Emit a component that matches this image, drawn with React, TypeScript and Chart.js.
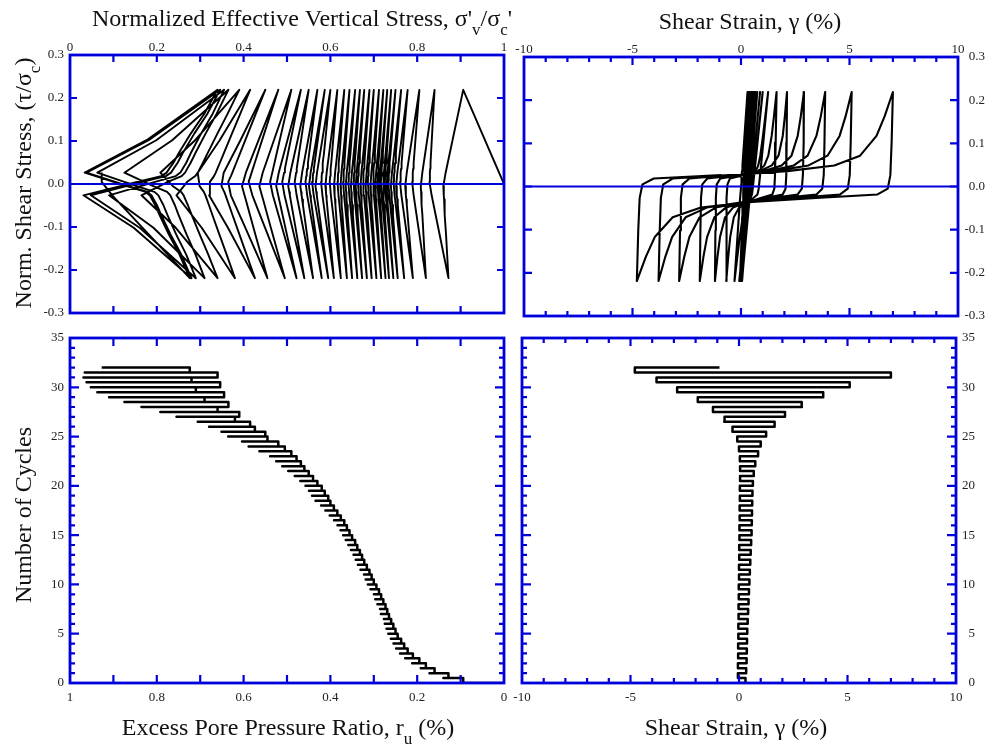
import React, { useEffect, useRef } from "react";
import { Chart, registerables } from "chart.js";

Chart.register(...registerables);

const PAGE_W = 987;
const PAGE_H = 749;
const FONT = '"Liberation Serif", "Times New Roman", serif';
const BLUE = "#0000dd";
const INK = "#222";

// ---------------- data ----------------
// cycle counter level of each loading half-cycle (half-cycle 1..65)
const halfCycleN = [
  0, 0.5, 1, 1.5, 2, 2.5, 3, 3.5, 4, 4.5, 5, 5.5, 6, 6.5, 7, 7.5, 8, 8.5, 9, 9.5,
  10, 10.5, 11, 11.5, 12, 12.5, 13, 13.5, 14, 14.5, 15, 15.5, 16, 16.5, 17, 17.5,
  18, 18.5, 19, 19.5, 20, 20.5, 21, 21.5, 22, 22.5, 23, 23.5, 24, 24.5, 25, 25.5,
  26, 26.5, 27, 27.5, 28, 28.5, 29, 29.5, 30, 30.5, 31, 31.5, 32,
];

// shear strain γ (%) at each stress peak (peak 1..64, odd = +τ peak, even = −τ peak)
const peakStrain = [
  0.3, -0.05, 0.33, -0.05, 0.35, -0.04, 0.36, -0.04, 0.37, -0.03,
  0.38, -0.03, 0.4, -0.02, 0.42, -0.02, 0.44, -0.01, 0.46, -0.01,
  0.48, 0.0, 0.5, 0.0, 0.52, 0.01, 0.54, 0.01, 0.56, 0.02,
  0.58, 0.02, 0.59, 0.03, 0.6, 0.03, 0.61, 0.04, 0.62, 0.04,
  0.64, 0.05, 0.68, 0.05, 0.75, 0.04, 0.88, 0.0, 1.0, -0.08,
  1.25, -0.3, 1.64, -0.68, 2.12, -1.2, 2.9, -1.9, 3.88, -2.85,
  5.1, -3.8, 7.0, -4.8,
];

// excess pore pressure ratio r_u at each stress peak (peak 1..64)
const peakRu = [
  0.094, 0.128, 0.16, 0.18, 0.195, 0.21, 0.222, 0.23, 0.237, 0.245,
  0.25, 0.255, 0.26, 0.265, 0.269, 0.273, 0.278, 0.283, 0.288, 0.294,
  0.3, 0.305, 0.31, 0.316, 0.322, 0.327, 0.332, 0.338, 0.343, 0.35,
  0.356, 0.362, 0.368, 0.376, 0.384, 0.392, 0.4, 0.405, 0.413, 0.42,
  0.43, 0.44, 0.45, 0.46, 0.468, 0.478, 0.49, 0.505, 0.52, 0.545,
  0.55, 0.574, 0.585, 0.62, 0.61, 0.66, 0.635, 0.69, 0.645, 0.71,
  0.654, 0.72, 0.66, 0.724,
];

// highest r_u reached in each half-cycle (near τ ≈ 0), half-cycle 1..65
const halfCycleRuMax = [
  0.094, 0.14, 0.172, 0.192, 0.212, 0.228, 0.24, 0.249, 0.255, 0.261,
  0.267, 0.271, 0.275, 0.279, 0.284, 0.288, 0.292, 0.297, 0.302, 0.308,
  0.314, 0.319, 0.325, 0.331, 0.337, 0.342, 0.347, 0.353, 0.359, 0.365,
  0.371, 0.377, 0.384, 0.392, 0.402, 0.412, 0.422, 0.435, 0.443, 0.45,
  0.458, 0.47, 0.483, 0.498, 0.512, 0.526, 0.54, 0.565, 0.59, 0.605,
  0.64, 0.657, 0.69, 0.716, 0.763, 0.8, 0.84, 0.877, 0.91, 0.937,
  0.952, 0.962, 0.969, 0.966, 0.927,
];

// cyclic stress amplitude τ/σ'c
const tauAmplitude = 0.219;
const startState = { tau: 0, strain: 0, ru: 0 };
const endStrain = -0.9;

// shape of a developed loop read from the largest loops:
// stress level (fraction of amplitude, −1 = start peak, +1 = end peak),
// fraction of the half-cycle strain change, and r_u position
// (0 = half-cycle maximum, 1 = value at the start / end peak)
const loopTauLevels = [-1, -0.465, -0.12, 0.023, 0.084, 0.121, 0.163, 0.223, 0.326, 0.535, 0.744, 1];
const loopStrainFraction = [0, 0.005, 0.01, 0.02, 0.06, 0.3, 0.55, 0.75, 0.86, 0.93, 0.965, 1];
const loopRuPosition = [1, 0.465, 0, 0.4, 0.58, 0.62, 0.64, 0.67, 0.71, 0.8, 0.9, 1];

// tick values
const stressTicks = [-0.3, -0.2, -0.1, 0, 0.1, 0.2, 0.3];
const ratioTicks = [0, 0.2, 0.4, 0.6, 0.8, 1];
const strainTicks = [-10, -5, 0, 5, 10];
const cycleTicks = [0, 5, 10, 15, 20, 25, 30, 35];

// ---------------- build the test record ----------------
type State = { n: number; tau: number; strain: number; ru: number };

const clamp01 = (v: number) => Math.min(1, Math.max(0, v));

function buildHistory(): State[] {
  const out: State[] = [];
  const last = loopTauLevels.length - 1;
  out.push({ n: halfCycleN[0], ...startState });
  for (let j = 1; j <= halfCycleN.length; j++) {
    const n = halfCycleN[j - 1];
    const s = j % 2 === 1 ? 1 : -1;
    const ruZ = halfCycleRuMax[j - 1];
    if (j === 1) {
      const B = { tau: tauAmplitude, strain: peakStrain[0], ru: peakRu[0] };
      for (let k = 0; k <= last; k++) {
        const tau = loopTauLevels[k] * tauAmplitude;
        if (tau <= startState.tau) continue;
        const f = (tau - startState.tau) / (B.tau - startState.tau);
        out.push({
          n,
          tau,
          strain: startState.strain + f * (B.strain - startState.strain),
          ru: startState.ru + f * (B.ru - startState.ru),
        });
      }
      continue;
    }
    const A = { tau: -s * tauAmplitude, strain: peakStrain[j - 2], ru: peakRu[j - 2] };
    out.push({ n, ...A });
    const pRu = clamp01((ruZ - 0.62) / 0.28);
    if (j === halfCycleN.length) {
      const kEnd = 5;
      for (let k = 1; k <= kEnd; k++) {
        const T = loopTauLevels[k];
        const f = loopStrainFraction[k] / loopStrainFraction[kEnd];
        const ru = T < 0 ? ruZ + (A.ru - ruZ) * -T : ruZ;
        out.push({ n, tau: s * T * tauAmplitude, strain: A.strain + f * (endStrain - A.strain), ru });
      }
      continue;
    }
    const B = { tau: s * tauAmplitude, strain: peakStrain[j - 1], ru: peakRu[j - 1] };
    const d = Math.abs(B.strain - A.strain);
    const p = clamp01((d - 0.8) / 1.6);
    for (let k = 1; k <= last; k++) {
      const T = loopTauLevels[k];
      const f = ((1 - p) * (T + 1)) / 2 + p * loopStrainFraction[k];
      const w = (1 - pRu) * Math.abs(T) + pRu * loopRuPosition[k];
      const ru = T < 0 ? ruZ + (A.ru - ruZ) * w : ruZ + (B.ru - ruZ) * w;
      out.push({ n, tau: s * T * tauAmplitude, strain: A.strain + f * (B.strain - A.strain), ru });
    }
  }
  return out;
}

// ---------------- panels ----------------
type Pos = "top" | "bottom" | "left" | "right";
type AxisSpec = {
  position: Pos;
  min: number;
  max: number;
  reverse?: boolean;
  ticks: number[];
  fmt: (v: number) => string;
  padding: number;
  thickness: number;
  crossAlign?: "near" | "far";
};
type Marks = { step: number; major: number; minorLen: number; majorLen: number };
type Run = [string, number, number];
type Title = { runs: Run[]; center: number; base: number; rotate?: boolean };
type Panel = {
  area: { l: number; t: number; r: number; b: number };
  x: AxisSpec;
  y: AxisSpec;
  map: (h: State) => { x: number; y: number };
  zeroLine: boolean;
  lineWidth: number;
  xMarks: Marks;
  yMarks: Marks;
  titles: Title[];
};

const fmtStress = (v: number) => (Math.abs(v) < 1e-9 ? "0.0" : v.toFixed(1));
const fmtPlain = (v: number) => String(Math.round(v * 10) / 10);

const PANELS: Panel[] = [
  {
    area: { l: 70, t: 55, r: 504, b: 313 },
    x: { position: "top", min: 0, max: 1, ticks: ratioTicks, fmt: fmtPlain, padding: 0, thickness: 22 },
    y: { position: "left", min: -0.3, max: 0.3, ticks: stressTicks, fmt: fmtStress, padding: 6, thickness: 40 },
    map: (h) => ({ x: 1 - h.ru, y: h.tau }),
    zeroLine: true,
    lineWidth: 1.9,
    xMarks: { step: 0.1, major: 0.2, minorLen: 7, majorLen: 7 },
    yMarks: { step: 0.1, major: 0.1, minorLen: 7, majorLen: 7 },
    titles: [
      {
        runs: [
          ["Normalized Effective Vertical Stress, σ'", 24, 0],
          ["v", 17, 9],
          ["/σ", 24, 0],
          ["c", 17, 9],
          ["'", 24, 0],
        ],
        center: 302,
        base: 26,
      },
      {
        runs: [
          ["Norm. Shear Stress, (τ/σ", 24, 0],
          ["c", 17, 9],
          [")", 24, 0],
        ],
        center: 183,
        base: 31,
        rotate: true,
      },
    ],
  },
  {
    area: { l: 524, t: 57, r: 958, b: 316 },
    x: { position: "top", min: -10, max: 10, ticks: strainTicks, fmt: fmtPlain, padding: 0, thickness: 22 },
    y: {
      position: "right", min: -0.3, max: 0.3, ticks: stressTicks, fmt: fmtStress, padding: 3, thickness: 27, crossAlign: "far",
    },
    map: (h) => ({ x: h.strain, y: h.tau }),
    zeroLine: true,
    lineWidth: 2.1,
    xMarks: { step: 1, major: 5, minorLen: 5, majorLen: 8 },
    yMarks: { step: 0.1, major: 0.1, minorLen: 8, majorLen: 8 },
    titles: [{ runs: [["Shear Strain, γ (%)", 24, 0]], center: 750, base: 29 }],
  },
  {
    area: { l: 70, t: 338, r: 504, b: 683 },
    x: { position: "bottom", min: 0, max: 1, reverse: true, ticks: ratioTicks, fmt: fmtPlain, padding: 7, thickness: 25 },
    y: { position: "left", min: 0, max: 35, ticks: cycleTicks, fmt: fmtPlain, padding: 6, thickness: 40 },
    map: (h) => ({ x: h.ru, y: h.n }),
    zeroLine: false,
    lineWidth: 2.5,
    xMarks: { step: 0.1, major: 0.1, minorLen: 8, majorLen: 8 },
    yMarks: { step: 1, major: 5, minorLen: 5, majorLen: 9 },
    titles: [
      {
        runs: [
          ["Excess Pore Pressure Ratio, r", 24, 0],
          ["u", 17, 9],
          [" (%)", 24, 0],
        ],
        center: 288,
        base: 735,
      },
      { runs: [["Number of Cycles", 24, 0]], center: 515, base: 31, rotate: true },
    ],
  },
  {
    area: { l: 522, t: 338, r: 956, b: 683 },
    x: { position: "bottom", min: -10, max: 10, ticks: strainTicks, fmt: fmtPlain, padding: 7, thickness: 25 },
    y: {
      position: "right", min: 0, max: 35, ticks: cycleTicks, fmt: fmtPlain, padding: 6, thickness: 19, crossAlign: "far",
    },
    map: (h) => ({ x: h.strain, y: h.n }),
    zeroLine: false,
    lineWidth: 2.5,
    xMarks: { step: 1, major: 5, minorLen: 5, majorLen: 8 },
    yMarks: { step: 1, major: 5, minorLen: 5, majorLen: 9 },
    titles: [{ runs: [["Shear Strain, γ (%)", 24, 0]], center: 736, base: 735 }],
  },
];

function isMultiple(v: number, m: number) {
  const r = Math.abs(v / m - Math.round(v / m));
  return r < 1e-6;
}

function drawTitles(ctx: CanvasRenderingContext2D, titles: Title[]) {
  ctx.save();
  ctx.fillStyle = "#111";
  ctx.textBaseline = "alphabetic";
  ctx.textAlign = "left";
  for (const t of titles) {
    let w = 0;
    for (const [txt, size] of t.runs) {
      ctx.font = `${size}px ${FONT}`;
      w += ctx.measureText(txt).width;
    }
    ctx.save();
    if (t.rotate) {
      ctx.translate(t.base, t.center + w / 2);
      ctx.rotate(-Math.PI / 2);
    } else {
      ctx.translate(t.center - w / 2, t.base);
    }
    let cx = 0;
    for (const [txt, size, dy] of t.runs) {
      ctx.font = `${size}px ${FONT}`;
      ctx.fillText(txt, cx, dy);
      cx += ctx.measureText(txt).width;
    }
    ctx.restore();
  }
  ctx.restore();
}

function makeFramePlugin(panel: Panel) {
  return {
    id: "frame",
    afterDatasetsDraw(chart: any) {
      const { ctx, chartArea: a } = chart;
      const xs = chart.scales.x;
      const ys = chart.scales.y;
      ctx.save();
      ctx.strokeStyle = BLUE;
      ctx.lineWidth = 2.2;
      ctx.lineCap = "butt";
      ctx.beginPath();
      const xm = panel.xMarks;
      const nx = Math.round((panel.x.max - panel.x.min) / xm.step);
      for (let i = 1; i < nx; i++) {
        const v = panel.x.min + i * xm.step;
        const px = xs.getPixelForValue(v);
        const len = isMultiple(v, xm.major) ? xm.majorLen : xm.minorLen;
        ctx.moveTo(px, a.top);
        ctx.lineTo(px, a.top + len);
        ctx.moveTo(px, a.bottom);
        ctx.lineTo(px, a.bottom - len);
      }
      const ym = panel.yMarks;
      const ny = Math.round((panel.y.max - panel.y.min) / ym.step);
      for (let i = 1; i < ny; i++) {
        const v = panel.y.min + i * ym.step;
        const py = ys.getPixelForValue(v);
        const len = isMultiple(v, ym.major) ? ym.majorLen : ym.minorLen;
        ctx.moveTo(a.left, py);
        ctx.lineTo(a.left + len, py);
        ctx.moveTo(a.right, py);
        ctx.lineTo(a.right - len, py);
      }
      ctx.stroke();
      ctx.lineWidth = 2.8;
      ctx.strokeRect(a.left, a.top, a.right - a.left, a.bottom - a.top);
      ctx.restore();
    },
    afterDraw(chart: any) {
      drawTitles(chart.ctx, panel.titles);
    },
  };
}

function scaleOptions(spec: AxisSpec, horizontal: boolean) {
  return {
    type: "linear",
    position: spec.position,
    min: spec.min,
    max: spec.max,
    reverse: !!spec.reverse,
    grid: { display: false, drawTicks: false },
    border: { display: false },
    ticks: {
      autoSkip: false,
      maxRotation: 0,
      minRotation: 0,
      padding: spec.padding,
      crossAlign: spec.crossAlign || "near",
      color: INK,
      font: { family: FONT, size: 13 },
      callback: (v: any) => spec.fmt(Number(v)),
    },
    afterBuildTicks: (sc: any) => {
      sc.ticks = spec.ticks.map((v) => ({ value: v }));
    },
    afterFit: (sc: any) => {
      if (horizontal) sc.height = spec.thickness;
      else sc.width = spec.thickness;
    },
  };
}

function createPanel(canvas: HTMLCanvasElement, panel: Panel, history: State[]) {
  const pts = history.map(panel.map);
  const a = panel.area;
  const pad = {
    left: a.l - (panel.y.position === "left" ? panel.y.thickness : 0),
    right: PAGE_W - a.r - (panel.y.position === "right" ? panel.y.thickness : 0),
    top: a.t - (panel.x.position === "top" ? panel.x.thickness : 0),
    bottom: PAGE_H - a.b - (panel.x.position === "bottom" ? panel.x.thickness : 0),
  };
  const datasets: any[] = [];
  if (panel.zeroLine) {
    datasets.push({
      data: [
        { x: panel.x.min, y: 0 },
        { x: panel.x.max, y: 0 },
      ],
      borderColor: BLUE,
      borderWidth: 2,
      showLine: true,
      pointRadius: 0,
    });
  }
  datasets.push({
    data: pts,
    borderColor: "#000",
    borderWidth: panel.lineWidth,
    showLine: true,
    pointRadius: 0,
    borderJoinStyle: "round",
  });
  return new Chart(canvas, {
    type: "scatter",
    data: { datasets },
    options: {
      animation: false,
      responsive: false,
      devicePixelRatio: 1,
      events: [],
      layout: { padding: pad },
      plugins: { legend: { display: false }, tooltip: { enabled: false } },
      scales: {
        x: scaleOptions(panel.x, true) as any,
        y: scaleOptions(panel.y, false) as any,
      },
    },
    plugins: [makeFramePlugin(panel) as any],
  });
}

export default function App() {
  const r0 = useRef<HTMLCanvasElement>(null);
  const r1 = useRef<HTMLCanvasElement>(null);
  const r2 = useRef<HTMLCanvasElement>(null);
  const r3 = useRef<HTMLCanvasElement>(null);
  const refs = [r0, r1, r2, r3];

  useEffect(() => {
    const history = buildHistory();
    const charts = PANELS.map((p, i) => createPanel(refs[i].current as HTMLCanvasElement, p, history));
    return () => charts.forEach((c) => c.destroy());
  }, []);

  return (
    <div style={{ position: "fixed", left: 0, top: 0, width: PAGE_W, height: PAGE_H, background: "#fff" }}>
      {refs.map((r, i) => (
        <canvas
          key={i}
          ref={r}
          width={PAGE_W}
          height={PAGE_H}
          style={{ position: "absolute", left: 0, top: 0, width: PAGE_W, height: PAGE_H }}
        />
      ))}
    </div>
  );
}
